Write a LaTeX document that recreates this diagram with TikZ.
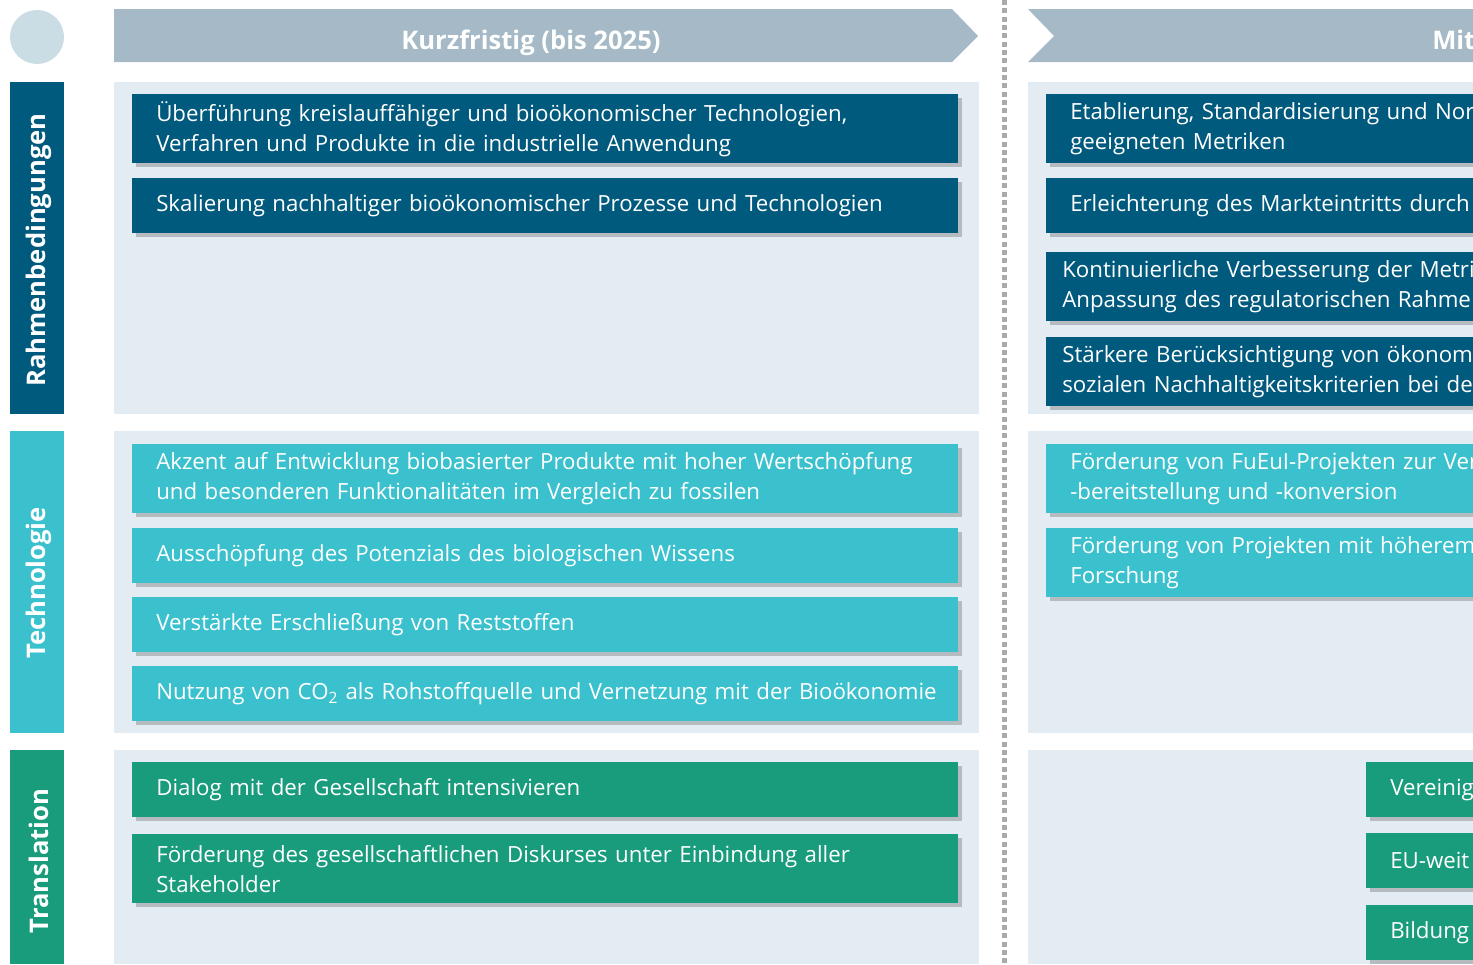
\documentclass[tikz,border=0pt]{standalone}
\usepackage{fontspec}
\setmainfont{Open Sans}
\usetikzlibrary{shadows}

\definecolor{rahmen}{HTML}{005A7E}
\definecolor{techno}{HTML}{3BC1CD}
\definecolor{transl}{HTML}{189C7C}
\definecolor{panelbg}{HTML}{E4ECF3}
\definecolor{headbg}{HTML}{A5BAC6}
\definecolor{dotgray}{HTML}{A9ABAB}
\definecolor{circbg}{HTML}{CADDE5}

\newcommand\boxfont[0]{\fontsize{16.7}{22.5}\selectfont}
\newcommand\headfont[0]{\bfseries\fontsize{19.2}{22}\selectfont}

\tikzset{
  panel/.style={fill=panelbg},
  headtext/.style={text=white, font=\headfont, inner sep=0pt, anchor=base},
  sidelabel/.style={rotate=90, text=white, font=\headfont, inner sep=0pt},
  box/.style={anchor=north west, text=white, align=left, inner xsep=18pt,
    inner ysep=0pt, font=\boxfont,
    drop shadow={shadow xshift=3pt, shadow yshift=-3pt, opacity=0.45}},
  leftbox/.style={box, text width=583.5pt},
  rightbox/.style={box, text width=330pt},
  twoline/.style={minimum height=51.75pt},
  oneline/.style={minimum height=41.25pt},
}

\begin{document}
\begin{tikzpicture}[x=0.75pt, y=-0.75pt]

\useasboundingbox (0,0) rectangle (1473,964);
\clip (0,0) rectangle (1473,964);

% header
\fill[circbg] (37,37) circle (27);
\fill[headbg] (114,9) -- (952,9) -- (978,36) -- (952,62) -- (114,62) -- cycle;
\fill[headbg] (1028,9) -- (1500,9) -- (1500,62) -- (1028,62) -- (1054,36) -- cycle;
\node[headtext] (kurz) at (531,49) {Kurzfristig (bis 2025)};
\node[headtext, anchor=base west] (mittel) at (1432,49) {Mit};

\draw[dotgray, line width=3.75pt, dash pattern=on 3.75pt off 2.5pt] (1004,0) -- (1004,964);

% panels
\fill[panel] (114,82) rectangle (979,414);
\fill[panel] (114,431) rectangle (979,733);
\fill[panel] (114,750) rectangle (979,964);
\fill[panel] (1028,82) rectangle (1500,414);
\fill[panel] (1028,431) rectangle (1500,733);
\fill[panel] (1028,750) rectangle (1500,964);

% side labels
\fill[rahmen] (10,82) rectangle (64,414);
\fill[techno] (10,431) rectangle (64,733);
\fill[transl] (10,750) rectangle (64,964);
\node[sidelabel] (rahmenlbl) at (39,250) {Rahmenbedingungen};
\node[sidelabel] (technolbl) at (39,583) {Technologie};
\node[sidelabel] (transllbl) at (39,861) {Translation};

% Rahmenbedingungen
\node[leftbox, twoline, fill=rahmen] (r1) at (132,94)
  {Überführung kreislauffähiger und bioökonomischer Technologien,\\Verfahren  und Produkte in die industrielle Anwendung};
\node[leftbox, oneline, fill=rahmen] (r2) at (132,178)
  {Skalierung nachhaltiger bioökonomischer Prozesse und Technologien};
\node[rightbox, twoline, fill=rahmen] (rm1) at (1046,94)
  {Etablierung, Standardisierung und Nor\\geeigneten Metriken};
\node[rightbox, oneline, fill=rahmen] (rm2) at (1046,178)
  {Erleichterung des Markteintritts durch};
\node[rightbox, twoline, fill=rahmen, inner xsep=12pt] (rm3) at (1046,252)
  {Kontinuierliche Verbesserung der Metri\\Anpassung des regulatorischen Rahme};
\node[rightbox, twoline, fill=rahmen, inner xsep=12pt] (rm4) at (1046,337)
  {Stärkere Berücksichtigung von ökonom\\sozialen Nachhaltigkeitskriterien bei der};

% Technologie
\node[leftbox, twoline, fill=techno] (t1) at (132,444)
  {Akzent auf Entwicklung biobasierter Produkte mit hoher Wertschöpfung\\und besonderen Funktionalitäten im Vergleich zu fossilen};
\node[leftbox, oneline, fill=techno] (t2) at (132,528)
  {Ausschöpfung des Potenzials des biologischen Wissens};
\node[leftbox, oneline, fill=techno] (t3) at (132,597)
  {Verstärkte Erschließung von Reststoffen};
\node[leftbox, oneline, fill=techno] (t4) at (132,666)
  {\mbox{Nutzung von CO\textsubscript{2} als Rohstoffquelle und Vernetzung mit der Bioökonomie}};
\node[rightbox, twoline, fill=techno] (tm1) at (1046,444)
  {Förderung von FuEuI-Projekten zur Ver\\-bereitstellung und -konversion};
\node[rightbox, twoline, fill=techno] (tm2) at (1046,528)
  {Förderung von Projekten mit höherem\\Forschung};

% Translation
\node[leftbox, oneline, fill=transl] (s1) at (132,762)
  {Dialog mit der Gesellschaft intensivieren};
\node[leftbox, twoline, fill=transl] (s2) at (132,834)
  {Förderung des gesellschaftlichen Diskurses unter Einbindung aller\\Stakeholder};
\node[rightbox, oneline, fill=transl] (sm1) at (1366,762) {Vereinig};
\node[rightbox, oneline, fill=transl] (sm2) at (1366,833) {EU-weit};
\node[rightbox, oneline, fill=transl] (sm3) at (1366,905) {Bildung};

\end{tikzpicture}
\end{document}
